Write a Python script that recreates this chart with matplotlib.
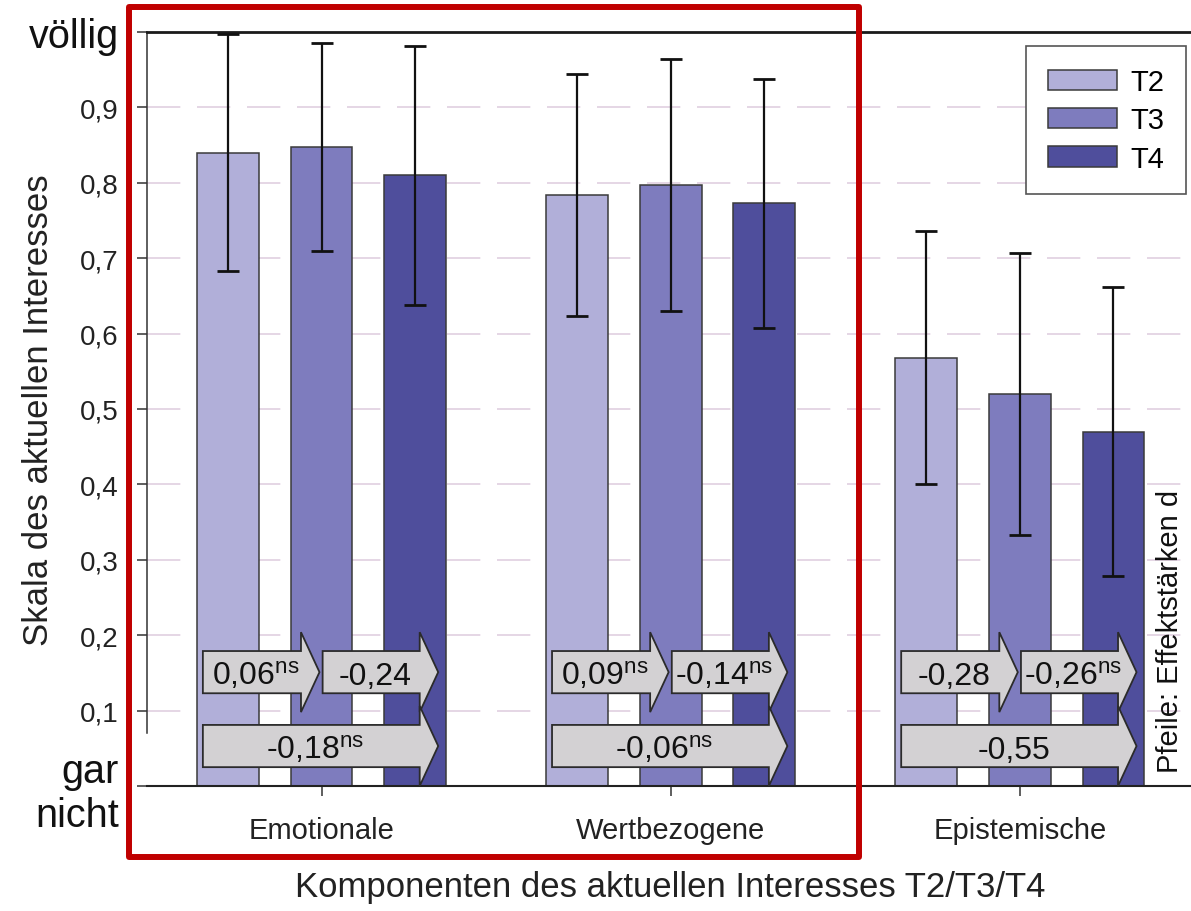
import matplotlib.pyplot as plt
import numpy as np
from matplotlib.patches import Polygon, Rectangle

plt.rcParams['font.family'] = ['Liberation Sans', 'DejaVu Sans']
plt.rcParams['mathtext.fontset'] = 'custom'
plt.rcParams['mathtext.rm'] = 'Liberation Sans'
plt.rcParams['mathtext.it'] = 'Liberation Sans:italic'
plt.rcParams['mathtext.bf'] = 'Liberation Sans:bold'

# Mittelwerte und Standardabweichungen je Komponente
komponenten = ['Emotionale', 'Wertbezogene', 'Epistemische']
zeitpunkte = ['T2', 'T3', 'T4']
mittel_t2 = [0.840, 0.784, 0.568]
mittel_t3 = [0.847, 0.797, 0.520]
mittel_t4 = [0.810, 0.773, 0.470]
sd_t2 = [0.157, 0.160, 0.168]
sd_t3 = [0.138, 0.167, 0.187]
sd_t4 = [0.172, 0.165, 0.192]

# Effektstärken d fuer die Pfeile, ns = nicht signifikant
d_t2_t3 = [0.06, 0.09, -0.28]
d_t3_t4 = [-0.24, -0.14, -0.26]
d_t2_t4 = [-0.18, -0.06, -0.55]
ns_t2_t3 = [True, True, False]
ns_t3_t4 = [False, True, True]
ns_t2_t4 = [True, True, False]

y_werte = np.round(np.arange(0, 1.01, 0.1), 1)
y_beschriftung = ['gar\nnicht', '0,1', '0,2', '0,3', '0,4', '0,5',
                  '0,6', '0,7', '0,8', '0,9', 'völlig']

farben = ['#b1afd9', '#7e7cbe', '#4f4e9c']


def d_text(v, ns):
    s = f'{v:.2f}'.replace('.', ',')
    if ns:
        s += r'$^{\mathrm{ns}}$'
    return s


def pfeil(ax, x0, x1, yc, label, body_h=0.056, head_h=0.106, head_len=0.053):
    xs = x1 - head_len
    pts = [(x0, yc - body_h / 2), (xs, yc - body_h / 2), (xs, yc - head_h / 2),
           (x1, yc), (xs, yc + head_h / 2), (xs, yc + body_h / 2),
           (x0, yc + body_h / 2)]
    ax.add_patch(Polygon(pts, closed=True, facecolor='#d3d1d3',
                         edgecolor='#2b2b2b', lw=1.3, zorder=4))
    ax.text((x0 + x1) / 2 - 0.015, yc - 0.0155, label, ha='center',
            va='baseline', fontsize=23, color='#111111', zorder=5)


fig = plt.figure(figsize=(11.91, 9.12), dpi=100)
ax = fig.add_axes([147 / 1191, 1 - 787 / 912, 1 - 147 / 1191, (787 - 33) / 912])

x = np.arange(len(komponenten))
breite = 0.177
abstand = 0.268
mittel = [mittel_t2, mittel_t3, mittel_t4]
sds = [sd_t2, sd_t3, sd_t4]
for i, (m, s) in enumerate(zip(mittel, sds)):
    ax.bar(x + (i - 1) * abstand, m, width=breite, yerr=s, color=farben[i],
           edgecolor='#3a3a3a', linewidth=1.1, label=zeitpunkte[i], zorder=2,
           error_kw=dict(ecolor='#111111', elinewidth=1.6, capsize=8,
                         capthick=2.0, zorder=3))

# Pfeile mit Effektstärken
for g in range(len(komponenten)):
    pfeil(ax, g - 0.34, g - 0.006, 0.151, d_text(d_t2_t3[g], ns_t2_t3[g]))
    pfeil(ax, g + 0.003, g + 0.334, 0.151, d_text(d_t3_t4[g], ns_t3_t4[g]))
    pfeil(ax, g - 0.34, g + 0.334, 0.053, d_text(d_t2_t4[g], ns_t2_t4[g]))

ax.set_xlim(-0.5, 2.49)
ax.set_ylim(0, 1)
ax.set_axisbelow(True)
ax.yaxis.grid(True, color='#e0cfe0', linestyle=(0, (20, 10)), lw=1.2)

ax.set_yticks(y_werte)
ax.set_yticklabels(y_beschriftung)
ax.tick_params(axis='y', direction='out', length=7.2, width=1.1, color='#333333',
               labelsize=20, labelcolor='#222222', pad=13)
for lab in (ax.get_yticklabels()[0], ax.get_yticklabels()[-1]):
    lab.set_fontsize(28.5)
    lab.set_color('#111111')

ax.set_xticks(x)
ax.set_xticklabels(komponenten)
ax.tick_params(axis='x', direction='out', length=7.2, width=1.1, color='#333333',
               labelsize=21, labelcolor='#222222', pad=14.5)

ax.spines['right'].set_visible(False)
ax.spines['top'].set_linewidth(2.0)
ax.spines['top'].set_color('#1a1a1a')
ax.spines['bottom'].set_linewidth(1.5)
ax.spines['bottom'].set_color('#222222')
ax.spines['left'].set_linewidth(1.1)
ax.spines['left'].set_color('#333333')
ax.spines['left'].set_bounds(0.07, 1.0)

ax.set_ylabel('Skala des aktuellen Interesses', fontsize=25, color='#222222')
ax.yaxis.set_label_coords(-0.088, 0.5)
ax.set_xlabel('Komponenten des aktuellen Interesses T2/T3/T4', fontsize=25,
              color='#222222')
ax.xaxis.set_label_coords(0.501, -0.112)

leg = ax.legend(loc='upper right', bbox_to_anchor=(0.995, 0.981), fontsize=21,
                frameon=True, fancybox=False, edgecolor='#555555', framealpha=1,
                borderpad=0.75, handlelength=2.35, handleheight=0.7,
                handletextpad=0.45, labelspacing=0.35, borderaxespad=0)
leg.get_frame().set_linewidth(1.2)

fig.text(1170 / 1191, 1 - 773 / 912, 'Pfeile: Effektstärken d', rotation=90,
         ha='center', va='bottom', fontsize=21, color='#111111')

# roter Rahmen um Emotionale und Wertbezogene
fig.add_artist(Rectangle((128.5 / 1191, 1 - 858 / 912), (859 - 128.5) / 1191,
                         (858 - 8) / 912, transform=fig.transFigure, fill=False,
                         edgecolor='#c00000', lw=4.3, joinstyle='round', zorder=10))

plt.savefig('out.png', dpi=100)
